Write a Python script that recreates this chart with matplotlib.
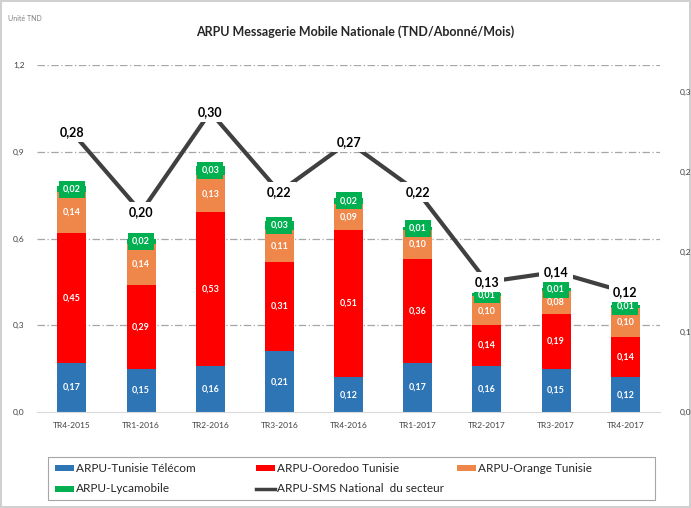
import numpy as np
import matplotlib
matplotlib.use("Agg")
import matplotlib.pyplot as plt
from matplotlib.patches import Rectangle
from matplotlib.lines import Line2D

plt.rcParams["font.family"] = ["Lato", "DejaVu Sans"]

quarters = ["TR4-2015", "TR1-2016", "TR2-2016", "TR3-2016", "TR4-2016",
            "TR1-2017", "TR2-2017", "TR3-2017", "TR4-2017"]
tunisie_telecom = [0.17, 0.15, 0.16, 0.21, 0.12, 0.17, 0.16, 0.15, 0.12]
ooredoo = [0.45, 0.29, 0.53, 0.31, 0.51, 0.36, 0.14, 0.19, 0.14]
orange = [0.14, 0.14, 0.13, 0.11, 0.09, 0.10, 0.10, 0.08, 0.10]
lycamobile = [0.02, 0.02, 0.03, 0.03, 0.02, 0.01, 0.01, 0.01, 0.01]
sms_secteur = [0.28, 0.20, 0.30, 0.22, 0.27, 0.22, 0.13, 0.14, 0.12]

series = [
    ("ARPU-Tunisie Télécom", tunisie_telecom, "#2E75B6"),
    ("ARPU-Ooredoo Tunisie", ooredoo, "#FF0000"),
    ("ARPU-Orange Tunisie", orange, "#F0874A"),
    ("ARPU-Lycamobile", lycamobile, "#00B050"),
]
line_name = "ARPU-SMS National  du secteur"
line_color = "#404040"


def fr(v, nd=2):
    return f"{v:.{nd}f}".replace(".", ",")


fig = plt.figure(figsize=(6.91, 5.08), dpi=100)
fig.patch.set_edgecolor("#D0D0D0")
fig.patch.set_linewidth(1.5)
ax = fig.add_axes([0.054, 0.189, 0.901, 0.683])

x = np.arange(len(quarters))
bottom = np.zeros(len(quarters))
for name, vals, col in series:
    vals = np.array(vals)
    ax.bar(x, vals, width=0.42, bottom=bottom, color=col, zorder=2)
    for xi, v, b0 in zip(x, vals, bottom):
        ax.text(xi, b0 + v / 2, fr(v), ha="center", va="center", color="white",
                fontsize=6.5, fontweight="bold", zorder=3,
                bbox=dict(boxstyle="square,pad=0.45", fc=col, ec="none"))
    bottom = bottom + vals

ax.set_xlim(-0.5, len(quarters) - 0.5)
ax.set_ylim(0, 1.2)
ax.set_yticks([0.0, 0.3, 0.6, 0.9, 1.2])
ax.set_yticklabels([fr(v, 1) for v in [0.0, 0.3, 0.6, 0.9, 1.2]])
ax.set_xticks(x)
ax.set_xticklabels(quarters)
ax.tick_params(axis="both", length=0, labelsize=6, colors="#404040")
ax.tick_params(axis="y", pad=9)
ax.tick_params(axis="x", pad=7)
for yv in [0.3, 0.6, 0.9, 1.2]:
    ax.axhline(yv, color="#A6A6A6", lw=0.9, ls=(0, (6, 2, 1, 2)), zorder=1)
for s in ["top", "right", "left"]:
    ax.spines[s].set_visible(False)
ax.spines["bottom"].set_color("#D9D9D9")

ax2 = ax.twinx()
ax2.plot(x, sms_secteur, color=line_color, lw=3, zorder=4, solid_capstyle="butt")
for xi, v in zip(x, sms_secteur):
    ax2.text(xi, v, fr(v), ha="center", va="center", fontsize=9, fontweight="bold",
             color="black", zorder=5,
             bbox=dict(boxstyle="square,pad=0.35", fc="white", ec="none"))
ax2.set_ylim(0, 0.347)
ax2.set_yticks([0.0, 0.08, 0.16, 0.24, 0.32])
ax2.set_yticklabels([fr(v, 1) for v in [0.0, 0.08, 0.16, 0.24, 0.32]])
ax2.tick_params(axis="y", length=0, labelsize=6, colors="#404040", pad=14)
for s in ax2.spines.values():
    s.set_visible(False)

fig.text(0.012, 0.963, "Unité TND", fontsize=5, color="#808080", ha="left", va="center")
fig.text(0.514, 0.937, "ARPU Messagerie Mobile Nationale (TND/Abonné/Mois)",
         fontsize=9, fontweight="bold", ha="center", va="center", color="#262626")

# legend drawn as in Excel: three equal-width columns, filled row by row
W, H = 691.0, 508.0
fig.patches.append(Rectangle((48 / W, 1 - 500 / H), 607 / W, 43 / H,
                             transform=fig.transFigure, fc="white",
                             ec="#A6A6A6", lw=0.8))
entries = [(n, c, "bar") for n, _, c in series] + [(line_name, line_color, "line")]
for i, (name, col, kind) in enumerate(entries):
    r, c = divmod(i, 3)
    x0 = 55 + c * 201
    yc = 468 + r * 21
    if kind == "bar":
        fig.patches.append(Rectangle((x0 / W, 1 - (yc + 3) / H), 19 / W, 6 / H,
                                     transform=fig.transFigure, fc=col, ec="none"))
    else:
        fig.lines.append(Line2D([x0 / W, (x0 + 19) / W], [1 - yc / H, 1 - yc / H],
                                transform=fig.transFigure, color=col, lw=2.5))
    fig.text((x0 + 21) / W, 1 - yc / H, name, fontsize=8.5, ha="left", va="center",
             color="#262626")

fig.savefig("out.png", dpi=100)
